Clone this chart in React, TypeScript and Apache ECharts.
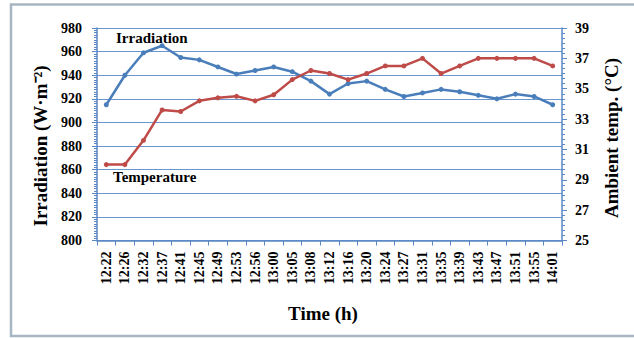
import React, { useEffect, useRef } from 'react';
import * as echarts from 'echarts';

const times = ['12:22', '12:26', '12:32', '12:37', '12:41', '12:45', '12:49', '12:53', '12:56', '13:00', '13:05', '13:08', '13:12', '13:16', '13:20', '13:24', '13:27', '13:31', '13:35', '13:39', '13:43', '13:47', '13:51', '13:55', '14:01'];
const irradiation = [915, 940, 959, 965, 955, 953, 947, 941, 944, 947, 943, 935, 924, 933, 935, 928, 922, 925, 928, 926, 923, 920, 924, 922, 915];
const temperature = [30, 30, 31.6, 33.6, 33.5, 34.2, 34.4, 34.5, 34.2, 34.6, 35.6, 36.2, 36.0, 35.6, 36.0, 36.5, 36.5, 37.0, 36.0, 36.5, 37.0, 37.0, 37.0, 37.0, 36.5];

const FONT = 'Liberation Serif';
const AXIS_BLUE = '#5a87c5';
const GRID_BLUE = '#6b95cf';

export default function App() {
  const ref = useRef<HTMLDivElement>(null);
  useEffect(() => {
    const chart = echarts.init(ref.current!, null, { renderer: 'svg' });
    const textStyle = (size: number) => ({
      fontFamily: FONT,
      fontWeight: 'bold',
      fontSize: size,
      fill: '#000',
      textVerticalAlign: 'middle',
    });
    const tickLabel = {
      color: '#000',
      fontFamily: FONT,
      fontWeight: 'bold' as const,
      fontSize: 14,
    };
    chart.setOption({
      animation: false,
      backgroundColor: '#ffffff',
      textStyle: { fontFamily: FONT, fontWeight: 'bold', color: '#000' },
      grid: { left: 97, right: 72, top: 28, bottom: 97.5 },
      graphic: [
        {
          type: 'rect',
          shape: { x: 11, y: 4.5, width: 640, height: 331.5 },
          style: { fill: 'none', stroke: '#a7b6c2', lineWidth: 2.5 },
          z: -10,
        },
        {
          type: 'text',
          x: 40,
          y: 146,
          rotation: Math.PI / 2,
          style: { ...textStyle(19), text: 'Irradiation (W·m⁻²)', textAlign: 'center' },
        },
        {
          type: 'text',
          x: 611,
          y: 138,
          rotation: Math.PI / 2,
          style: { ...textStyle(19), text: 'Ambient temp. (°C)', textAlign: 'center' },
        },
        {
          type: 'text',
          x: 323,
          y: 313,
          style: { ...textStyle(19), text: 'Time (h)', textAlign: 'center' },
        },
        {
          type: 'text',
          x: 116,
          y: 38,
          style: { ...textStyle(15), text: 'Irradiation', textAlign: 'left' },
        },
        {
          type: 'text',
          x: 113,
          y: 177,
          style: { ...textStyle(15), text: 'Temperature', textAlign: 'left' },
        },
      ],
      xAxis: {
        type: 'category',
        data: times,
        boundaryGap: true,
        axisLine: { show: true, lineStyle: { color: AXIS_BLUE, width: 1.5 } },
        axisTick: { show: true, interval: 0, length: 5, lineStyle: { color: AXIS_BLUE } },
        axisLabel: { ...tickLabel, interval: 0, rotate: 90, margin: 11 },
        splitLine: { show: false },
      },
      yAxis: [
        {
          type: 'value',
          min: 800,
          max: 980,
          interval: 20,
          position: 'left',
          axisLine: { show: true, lineStyle: { color: AXIS_BLUE, width: 1.5 } },
          axisTick: { show: true, length: 5, lineStyle: { color: AXIS_BLUE } },
          minorTick: { show: true, splitNumber: 10, length: 3, lineStyle: { color: AXIS_BLUE } },
          axisLabel: { ...tickLabel, margin: 15 },
          splitLine: { show: true, lineStyle: { color: GRID_BLUE, width: 1.2 } },
        },
        {
          type: 'value',
          min: 25,
          max: 39,
          interval: 2,
          position: 'right',
          axisLine: { show: true, lineStyle: { color: AXIS_BLUE, width: 1.5 } },
          axisTick: { show: true, length: 5, lineStyle: { color: AXIS_BLUE } },
          minorTick: { show: true, splitNumber: 6, length: 3, lineStyle: { color: AXIS_BLUE } },
          axisLabel: { ...tickLabel, margin: 13 },
          splitLine: { show: false },
        },
      ],
      series: [
        {
          name: 'Irradiation',
          type: 'line',
          yAxisIndex: 0,
          data: irradiation,
          symbol: 'circle',
          symbolSize: 5,
          itemStyle: { color: '#4a7ebb' },
          lineStyle: { color: '#4a7ebb', width: 2.5 },
        },
        {
          name: 'Temperature',
          type: 'line',
          yAxisIndex: 1,
          data: temperature,
          symbol: 'circle',
          symbolSize: 5,
          itemStyle: { color: '#be4b48' },
          lineStyle: { color: '#be4b48', width: 2.5 },
        },
      ],
    });
    return () => chart.dispose();
  }, []);
  return (
    <div
      ref={ref}
      style={{ position: 'fixed', left: 0, top: 0, width: 634, height: 338, background: '#fff' }}
    />
  );
}
